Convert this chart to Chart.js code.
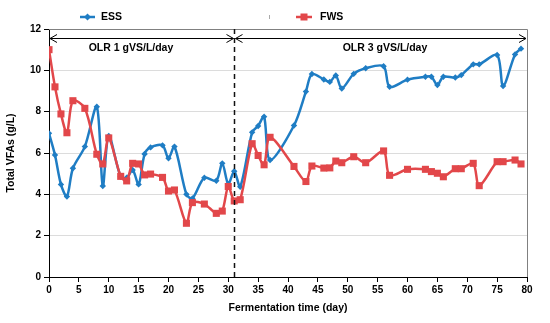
<!DOCTYPE html>
<html>
<head>
<meta charset="utf-8">
<script src="https://cdn.jsdelivr.net/npm/chart.js@4.4.1/dist/chart.umd.min.js"></script>
<style>
  html, body { margin: 0; padding: 0; background: #fff; }
  #wrap { width: 550px; height: 323px; position: relative; }
</style>
</head>
<body>
<div id="wrap"><canvas id="vfaChart"></canvas></div>
<script>
// sampling days (fermentation time, day)
const days = [0, 1, 2, 3, 4, 6, 8, 9, 10, 12, 13, 14, 15, 16, 17, 19, 20, 21, 23, 24,
  26, 28, 29, 30, 31, 32, 34, 35, 36, 37, 41, 43, 44, 46, 47, 48, 49, 51, 53, 56,
  57, 60, 63, 64, 65, 66, 68, 69, 71, 72, 75, 76, 78, 79];

// total VFAs (g/L)
const ess = [6.95, 5.9, 4.48, 3.89, 5.26, 6.31, 8.24, 4.4, 6.82, 4.85, 4.8, 5.18, 4.48, 5.95, 6.27, 6.37, 5.74, 6.31, 4.0, 3.8,
  4.8, 4.66, 5.5, 4.5, 5.12, 4.37, 7.0, 7.31, 7.76, 5.66, 7.33, 8.97, 9.82, 9.56, 9.44, 9.75, 9.12, 9.83, 10.1, 10.2,
  9.2, 9.55, 9.69, 9.69, 9.29, 9.69, 9.65, 9.77, 10.29, 10.29, 10.74, 9.24, 10.77, 11.05];

const fws = [11.0, 9.2, 7.89, 6.98, 8.53, 8.16, 5.94, 5.47, 6.73, 4.87, 4.65, 5.5, 5.47, 4.94, 4.98, 4.82, 4.16, 4.21, 2.6, 3.6,
  3.53, 3.08, 3.19, 4.38, 3.68, 3.74, 6.45, 5.88, 5.43, 6.76, 5.35, 4.62, 5.37, 5.27, 5.28, 5.61, 5.53, 5.82, 5.53, 6.1,
  4.92, 5.21, 5.21, 5.1, 5.02, 4.85, 5.24, 5.24, 5.5, 4.42, 5.58, 5.58, 5.66, 5.47];

const seriesNames = ['ESS', 'FWS'];
const phaseChangeDay = 31;
const phaseLabels = ['OLR 1 gVS/L/day', 'OLR 3 gVS/L/day'];

const essColor = '#1F7DC4';
const fwsColor = '#E2474A';
const font = '"Liberation Sans", Arial, sans-serif';

const overlay = {
  id: 'overlay',
  afterDraw(chart) {
    const { ctx, chartArea: a, scales: { x, y } } = chart;
    ctx.save();

    // plot frame top / right
    ctx.strokeStyle = '#808080';
    ctx.lineWidth = 1;
    ctx.beginPath();
    ctx.moveTo(a.left, a.top + 0.5);
    ctx.lineTo(a.right + 0.5, a.top + 0.5);
    ctx.lineTo(a.right + 0.5, a.bottom);
    ctx.stroke();

    // phase change line
    const xp = Math.round(x.getPixelForValue(phaseChangeDay)) + 0.5;
    ctx.strokeStyle = '#111';
    ctx.lineWidth = 1.5;
    ctx.setLineDash([5, 4]);
    ctx.beginPath();
    ctx.moveTo(xp, a.bottom);
    ctx.lineTo(xp, a.top);
    ctx.stroke();
    ctx.setLineDash([]);

    // double arrows + labels
    const ay = 38.5;
    const arrow = (x1, x2) => {
      ctx.beginPath();
      ctx.moveTo(x1, ay); ctx.lineTo(x2, ay);
      ctx.moveTo(x1 + 7, ay - 4); ctx.lineTo(x1, ay); ctx.lineTo(x1 + 7, ay + 4);
      ctx.moveTo(x2 - 7, ay - 4); ctx.lineTo(x2, ay); ctx.lineTo(x2 - 7, ay + 4);
      ctx.stroke();
    };
    ctx.strokeStyle = '#000';
    ctx.lineWidth = 1;
    arrow(a.left + 1, xp - 1);
    arrow(xp + 1, a.right - 1);

    ctx.fillStyle = '#000';
    ctx.font = 'bold 10.5px ' + font;
    ctx.textAlign = 'center';
    ctx.textBaseline = 'middle';
    ctx.fillText(phaseLabels[0], 131, 48);
    ctx.fillText(phaseLabels[1], 385, 48);

    // legend
    const ly = 17;
    ctx.lineWidth = 2.5;
    ctx.strokeStyle = essColor;
    ctx.beginPath(); ctx.moveTo(80, ly); ctx.lineTo(95, ly); ctx.stroke();
    ctx.fillStyle = essColor;
    ctx.beginPath();
    ctx.moveTo(87.5, ly - 3.5); ctx.lineTo(91, ly); ctx.lineTo(87.5, ly + 3.5); ctx.lineTo(84, ly);
    ctx.closePath(); ctx.fill();

    ctx.strokeStyle = fwsColor;
    ctx.beginPath(); ctx.moveTo(296, ly); ctx.lineTo(312, ly); ctx.stroke();
    ctx.fillStyle = fwsColor;
    ctx.fillRect(300.5, ly - 3.5, 7, 7);

    ctx.fillStyle = '#000';
    ctx.textAlign = 'left';
    ctx.fillText(seriesNames[0], 101, ly);
    ctx.fillText(seriesNames[1], 320, ly);

    ctx.strokeStyle = '#aaa';
    ctx.lineWidth = 1;
    ctx.beginPath(); ctx.moveTo(269.5, ly - 2); ctx.lineTo(269.5, ly + 2); ctx.stroke();

    ctx.restore();
  }
};

new Chart(document.getElementById('vfaChart'), {
  type: 'line',
  data: {
    datasets: [
      {
        label: seriesNames[0],
        data: days.map((d, i) => ({ x: d, y: ess[i] })),
        borderColor: essColor,
        backgroundColor: essColor,
        borderWidth: 2.5,
        tension: 0.3,
        pointStyle: 'rectRot',
        pointRadius: 3.2,
        pointBorderWidth: 0,
        order: 1
      },
      {
        label: seriesNames[1],
        data: days.map((d, i) => ({ x: d, y: fws[i] })),
        borderColor: fwsColor,
        backgroundColor: fwsColor,
        borderWidth: 2.5,
        tension: 0.3,
        pointStyle: 'rect',
        pointRadius: 5,
        pointBorderWidth: 0,
        order: 0
      }
    ]
  },
  options: {
    responsive: true,
    maintainAspectRatio: false,
    animation: false,
    layout: { padding: { top: 29, right: 23, left: 0, bottom: 0 } },
    plugins: {
      legend: { display: false },
      tooltip: { enabled: false }
    },
    scales: {
      x: {
        type: 'linear',
        min: 0,
        max: 80,
        afterFit: s => { s.height = 46; },
        ticks: {
          stepSize: 5,
          padding: 2,
          color: '#000',
          font: { family: font, size: 10, weight: 'bold' }
        },
        grid: { drawOnChartArea: false, tickLength: 5, tickColor: '#000' },
        border: { color: '#000', width: 1 },
        title: {
          display: true,
          text: 'Fermentation time (day)',
          color: '#000',
          font: { family: font, size: 10.5, weight: 'bold' },
          padding: { top: 0, bottom: 9 }
        }
      },
      y: {
        min: 0,
        max: 12,
        afterFit: s => { s.width = 49; },
        ticks: {
          stepSize: 2,
          padding: 3,
          color: '#000',
          font: { family: font, size: 10, weight: 'bold' }
        },
        grid: { color: '#dcdcdc', tickLength: 5, tickColor: '#000' },
        border: { color: '#000', width: 1 },
        title: {
          display: true,
          text: 'Total VFAs (g/L)',
          color: '#000',
          font: { family: font, size: 10.5, weight: 'bold' },
          padding: { top: 5, bottom: 0 }
        }
      }
    }
  },
  plugins: [overlay]
});
</script>
</body>
</html>
